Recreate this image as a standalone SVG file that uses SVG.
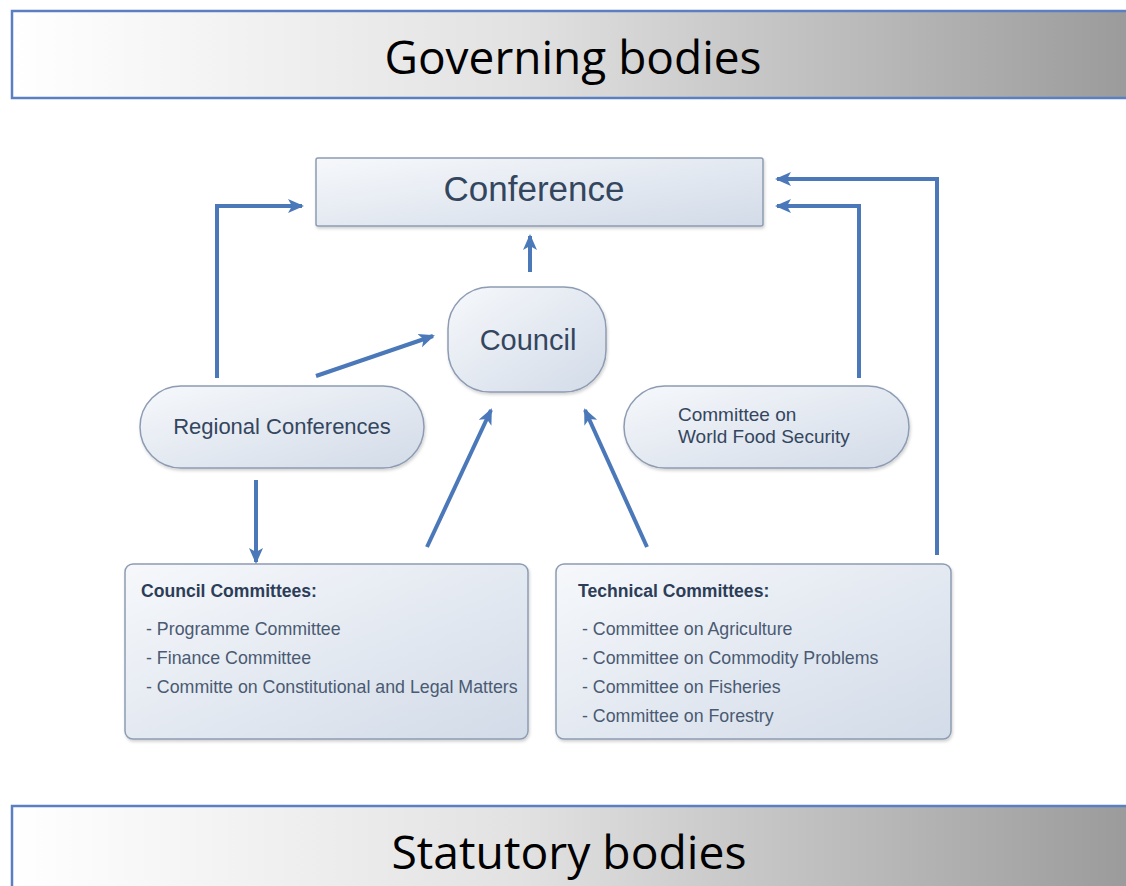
<svg xmlns="http://www.w3.org/2000/svg" width="1126" height="886" viewBox="0 0 1126 886">
<defs>
<linearGradient id="banner" x1="0" y1="0" x2="1" y2="0">
<stop offset="0" stop-color="#ffffff"/>
<stop offset="0.45" stop-color="#e2e2e2"/>
<stop offset="1" stop-color="#9a9a9a"/>
</linearGradient>
<linearGradient id="node" x1="0" y1="0" x2="1" y2="1">
<stop offset="0" stop-color="#f6f8fb"/>
<stop offset="1" stop-color="#d2dbe8"/>
</linearGradient>
<marker id="ah" markerUnits="userSpaceOnUse" markerWidth="16" markerHeight="16" viewBox="0 0 16 16" refX="14" refY="8" orient="auto">
<path d="M0,1 L16,8 L0,15 L4,8 Z" fill="#4a78b9"/>
</marker>
<filter id="sh" x="-5%" y="-5%" width="115%" height="120%">
<feDropShadow dx="1" dy="2" stdDeviation="1.5" flood-color="#000" flood-opacity="0.18"/>
</filter>
</defs>
<style>
.banner{fill:url(#banner);stroke:#5b7fc0;stroke-width:2.5}
.btxt{font-family:"Open Sans","Noto Sans",sans-serif;font-size:45px;fill:#000;text-anchor:middle}
.nd{fill:url(#node);stroke:#8d9cb3;stroke-width:1.5;filter:url(#sh)}
.t{font-family:"Liberation Sans",Arial,sans-serif;fill:#34465e}
.big{text-anchor:middle}
.hd{font-weight:bold;font-size:17.6px;fill:#2c3d57}
.it{font-size:17.8px;fill:#4a5a72}
.c{fill:none;stroke:#4a78b9;stroke-width:4;marker-end:url(#ah)}
</style>
<rect width="1126" height="886" fill="#ffffff"/>
<g id="governing">
<rect class="banner" x="12" y="11" width="1125" height="87"/>
<text class="btxt" x="573" y="74" textLength="377" lengthAdjust="spacingAndGlyphs">Governing bodies</text>
</g>
<g id="statutory">
<rect class="banner" x="12" y="806" width="1125" height="90"/>
<text class="btxt" x="569" y="869" textLength="355" lengthAdjust="spacingAndGlyphs">Statutory bodies</text>
</g>
<g id="conference">
<rect class="nd" x="316" y="158" width="447" height="68" rx="2"/>
<text class="t big" x="534" y="201" font-size="35">Conference</text>
</g>
<g id="council">
<rect class="nd" x="448" y="287" width="158" height="105" rx="42"/>
<text class="t big" x="528" y="350" font-size="29">Council</text>
</g>
<g id="regional">
<rect class="nd" x="140" y="386" width="284" height="82" rx="41"/>
<text class="t big" x="282" y="434" font-size="22">Regional Conferences</text>
</g>
<g id="cfs">
<rect class="nd" x="624" y="386" width="285" height="82" rx="41"/>
<text class="t" x="678" y="421" font-size="19">Committee on</text>
<text class="t" x="678" y="443" font-size="19">World Food Security</text>
</g>
<g id="councilcommittees">
<rect class="nd" x="125" y="564" width="403" height="175" rx="8"/>
<text class="t hd" x="141" y="597">Council Committees:</text>
<text class="t it" x="146" y="635">- Programme Committee</text>
<text class="t it" x="146" y="664">- Finance Committee</text>
<text class="t it" x="146" y="693">- Committe on Constitutional and Legal Matters</text>
</g>
<g id="technicalcommittees">
<rect class="nd" x="556" y="564" width="395" height="175" rx="8"/>
<text class="t hd" x="578" y="597">Technical Committees:</text>
<text class="t it" x="582" y="635">- Committee on Agriculture</text>
<text class="t it" x="582" y="664">- Committee on Commodity Problems</text>
<text class="t it" x="582" y="693">- Committee on Fisheries</text>
<text class="t it" x="582" y="722">- Committee on Forestry</text>
</g>
<g id="connectors">
<path class="c" d="M217,378 V206 H302"/>
<path class="c" d="M530,272 V236"/>
<path class="c" d="M316,376 L433,336"/>
<path class="c" d="M256,480 V562"/>
<path class="c" d="M427,547 L491,410"/>
<path class="c" d="M647,547 L585,410"/>
<path class="c" d="M859,378 V206 H777"/>
<path class="c" d="M937,555 V179 H777"/>
</g>
</svg>
